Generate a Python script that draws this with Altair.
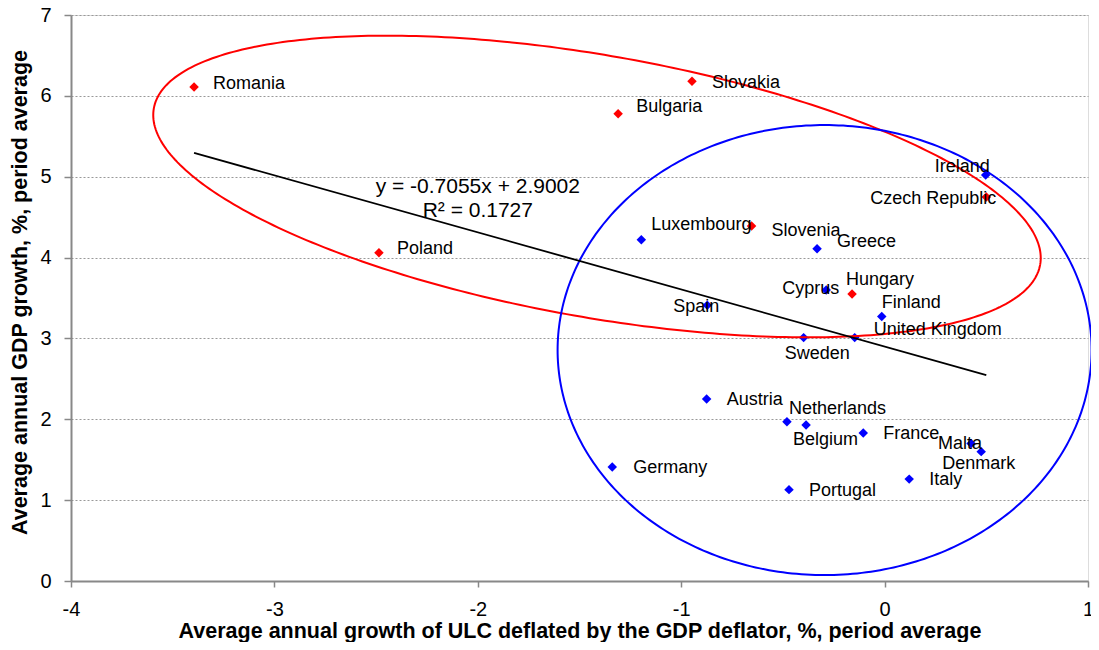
import altair as alt
import numpy as np
import pandas as pd

# ---- data ----
countries = ["Romania", "Slovakia", "Bulgaria", "Poland", "Czech Republic", "Slovenia", "Hungary",
             "Ireland", "Luxembourg", "Greece", "Cyprus", "Finland", "Spain", "Sweden",
             "United Kingdom", "Austria", "Netherlands", "Belgium", "France", "Malta",
             "Denmark", "Germany", "Italy", "Portugal"]
ulc = [-3.395, -0.947, -1.31, -2.486, 0.50, -0.654, -0.16,
       0.497, -1.196, -0.332, -0.287, -0.014, -0.872, -0.398,
       -0.147, -0.875, -0.48, -0.386, -0.105, 0.425,
       0.475, -1.339, 0.121, -0.470]
gdp = [6.11, 6.18, 5.78, 4.06, 4.75, 4.39, 3.55,
       5.02, 4.22, 4.11, 3.60, 3.27, 3.41, 3.01,
       3.01, 2.25, 1.97, 1.93, 1.83, 1.70,
       1.60, 1.41, 1.26, 1.13]
group = ["new"] * 7 + ["old"] * 17

# label offsets in pixels (left edge, vertical centre) relative to the marker
label_dx = [19, 20, 18, 18, -116, 20, -6,
            -51, 10, 20, -44, 0, -34, -19,
            19, 20, 2, -13, 20, -33,
            -39, 21, 20, 20]
label_dy = [-3, 2, -7, -4, 2, 5, -14,
            -8, -15, -7, -1, -14, 2, 16,
            -8, 1, -13, 15, 1, 0,
            12, 1, 1, 1]

slope, intercept = -0.7055, 2.9002
eq_lines = ["y = -0.7055x + 2.9002", "R² = 0.1727"]

# ellipse annotations: centre (data), semi-axes (px), rotation (deg, screen)
ellipses = {
    "red":  {"cx": -1.414, "cy": 4.879, "a": 450, "b": 131, "rot": 10, "color": "#ff0000"},
    "blue": {"cx": -0.295, "cy": 2.856, "a": 267, "b": 225, "rot": 0, "color": "#3333cc"},
}

W, H = 1017, 566
XD, YD = (-4, 1), (0, 7)
ppx = W / (XD[1] - XD[0])
ppy = H / (YD[1] - YD[0])

df = pd.DataFrame({"country": countries, "x": ulc, "y": gdp, "group": group})
df["lx"] = df["x"] + np.array(label_dx) / ppx
df["ly"] = df["y"] - np.array(label_dy) / ppy

xmin, xmax = min(ulc), max(ulc)
trend = pd.DataFrame({"x": [xmin, xmax], "y": [slope * xmin + intercept, slope * xmax + intercept]})

rows = []
t = np.linspace(0, 2 * np.pi, 361)
for name, e in ellipses.items():
    th = np.radians(e["rot"])
    px = e["a"] * np.cos(t) * np.cos(th) - e["b"] * np.sin(t) * np.sin(th)
    py = e["a"] * np.cos(t) * np.sin(th) + e["b"] * np.sin(t) * np.cos(th)
    for i, (u, v) in enumerate(zip(px, py)):
        rows.append({"name": name, "i": i, "x": e["cx"] + u / ppx, "y": e["cy"] - v / ppy})
ell = pd.DataFrame(rows)

eq = pd.DataFrame({"x": [-2.0, -2.0], "y": [4.87, 4.575], "t": eq_lines})

xs = alt.Scale(domain=list(XD), nice=False, zero=False)
ys = alt.Scale(domain=list(YD), nice=False)

FONT = "Liberation Sans"
LBL = "'' + datum.value"

base_x = alt.X("x:Q", scale=xs, axis=alt.Axis(
    title="Average annual growth of ULC deflated by the GDP deflator, %, period average",
    values=[-4, -3, -2, -1, 0, 1], labelExpr=LBL, labelFlush=False, grid=False,
    domainColor="#888888", domainWidth=2, tickColor="#888888", tickWidth=1.5, tickSize=6,
    labelFontSize=20, labelFont=FONT, labelColor="#000000", labelPadding=12,
    titleFont=FONT, titleFontSize=21.5, titleFontWeight="bold", titleColor="#000000",
    titleY=50, titleBaseline="middle"))
base_y = alt.Y("y:Q", scale=ys, axis=alt.Axis(
    title="Average annual GDP growth, %, period average",
    values=[0, 1, 2, 3, 4, 5, 6, 7], labelExpr=LBL, labelFlush=False, grid=True,
    gridColor="#999999", gridDash=[2, 2], gridWidth=1, domainColor="#888888",
    domainWidth=2, tickColor="#888888", tickWidth=1.5, tickSize=7, labelFontSize=20,
    labelFont=FONT, labelColor="#000000", labelPadding=13, titleFont=FONT,
    titleFontSize=21.5, titleFontWeight="bold", titleColor="#000000", titleX=-51,
    titleY=277, titleBaseline="middle", titleAlign="center", titleAngle=270))

ell_layer = alt.Chart(ell).mark_line(strokeWidth=2).encode(
    x=alt.X("x:Q", scale=xs), y=alt.Y("y:Q", scale=ys), detail="name:N", order="i:Q",
    color=alt.Color("name:N", scale=alt.Scale(domain=list(ellipses.keys()),
                    range=[e["color"] for e in ellipses.values()]), legend=None))

trend_layer = alt.Chart(trend).mark_line(color="#000000", strokeWidth=1.8).encode(
    x=alt.X("x:Q", scale=xs), y=alt.Y("y:Q", scale=ys))

pts = alt.Chart(df).mark_point(shape="diamond", filled=True, size=90, opacity=1).encode(
    x=base_x, y=base_y,
    color=alt.Color("group:N", scale=alt.Scale(domain=["new", "old"], range=["#ff0000", "#0000ff"]),
                    legend=None))

labels = alt.Chart(df).mark_text(align="left", baseline="middle", font=FONT, fontSize=18,
                                 color="#000000").encode(
    x=alt.X("lx:Q", scale=xs), y=alt.Y("ly:Q", scale=ys), text="country:N")

eq_layer = alt.Chart(eq).mark_text(align="center", baseline="middle", font=FONT, fontSize=21,
                                   color="#000000").encode(
    x=alt.X("x:Q", scale=xs), y=alt.Y("y:Q", scale=ys), text="t:N")

chart = alt.layer(pts, ell_layer, trend_layer, labels, eq_layer).properties(
    width=W, height=H,
    autosize=alt.AutoSizeParams(type="none"),
    padding={"left": 63, "top": 7, "right": 3, "bottom": 61},
).configure_view(stroke=None).configure(background="#ffffff")

chart.save("out.html", embed_options={"renderer": "svg", "actions": False})
